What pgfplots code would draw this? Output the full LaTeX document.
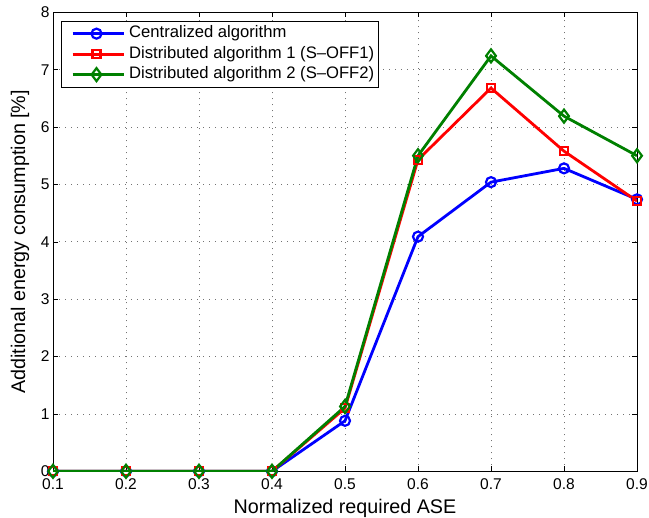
\documentclass[border=0pt]{standalone}
\usepackage{pgfplots}
\pgfplotsset{compat=1.18}
\usepackage{fontspec}
\setmainfont{Liberation Sans}
\definecolor{mblue}{rgb}{0,0,1}
\definecolor{mred}{rgb}{1,0,0}
\definecolor{mgreen}{rgb}{0,0.5,0}
\begin{document}
\begin{tikzpicture}[x=1bp,y=1bp]
\begin{axis}[
  name=ax,
  scale only axis,
  width=584bp, height=459bp,
  xmin=0.1, xmax=0.9, ymin=0, ymax=8,
  xtick={0.1,0.2,0.3,0.4,0.5,0.6,0.7,0.8,0.9},
  ytick={0,1,2,3,4,5,6,7,8},
  xticklabels={0.1,0.2,0.3,0.4,0.5,0.6,0.7,0.8,0.9},
  tick align=inside,
  major tick length=5bp,
  tick style={black, line width=0.6pt},
  grid=major,
  grid style={dash pattern=on 1bp off 5bp, black!55, line width=0.8pt},
  axis line style={black, line width=1pt},
  ticklabel style={font=\fontsize{15.6}{18}\selectfont},
  label style={font=\fontsize{19.8}{24}\selectfont},
  xlabel={Normalized required ASE},
  ylabel={Additional energy consumption [\%]},
  xlabel style={at={(axis description cs:0.5,-0.093)}, anchor=base},
  ylabel style={at={(axis description cs:-0.0565,0.5)}, anchor=center},
  xticklabel style={yshift=-3.5bp},
  /pgf/number format/assume math mode=true,
  legend style={at={(rel axis cs:0,1)}, anchor=north west, xshift=7.7bp, yshift=-8.4bp,
    font=\fontsize{16.7}{20}\selectfont, draw=black, line width=0.8pt,
    inner xsep=3bp, inner ysep=2.3bp, column sep=3.3bp,
    nodes={inner xsep=1bp, inner ysep=2bp, text height=12.2bp, text depth=4.3bp},
    cells={anchor=west}},
  legend image code/.code={
    \path (0bp,0bp);
    \draw[#1, line width=2.8bp] (7bp,0bp) -- (58bp,0bp);
    \draw[#1, mark repeat=1] plot coordinates {(31bp,0bp)};
  },
]
\addplot[mblue, line width=2.8bp, mark=o, mark size=5bp, mark options={line width=2.2bp}]
  coordinates {(0.1,0) (0.2,0) (0.3,0) (0.4,0) (0.5,0.88) (0.6,4.09) (0.7,5.04) (0.8,5.28) (0.9,4.74)};
\addlegendentry{Centralized algorithm}
\addplot[mred, line width=2.8bp, mark=square, mark size=4bp, mark options={line width=2.2bp}]
  coordinates {(0.1,0) (0.2,0) (0.3,0) (0.4,0) (0.5,1.1) (0.6,5.43) (0.7,6.68) (0.8,5.58) (0.9,4.71)};
\addlegendentry{Distributed algorithm 1 (S\textendash OFF1)}
\addplot[mgreen, line width=2.8bp, mark=diamond, mark size=6.5bp, mark options={line width=2.2bp}]
  coordinates {(0.1,0) (0.2,0) (0.3,0) (0.4,0) (0.5,1.13) (0.6,5.5) (0.7,7.24) (0.8,6.19) (0.9,5.5)};
\addlegendentry{Distributed algorithm 2 (S\textendash OFF2)}
\end{axis}
\pgfresetboundingbox
\path ([shift={(-53bp,-46.3bp)}]ax.south west) rectangle ([shift={(12bp,12.3bp)}]ax.north east);
\end{tikzpicture}
\end{document}
